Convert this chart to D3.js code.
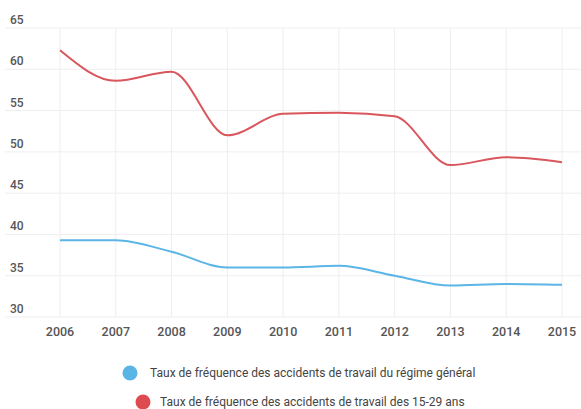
<!DOCTYPE html>
<html><head><meta charset="utf-8">
<script src="https://cdn.jsdelivr.net/npm/d3@7"></script>
<style>body{margin:0;background:#fff}svg{display:block}</style>
</head><body>
<script>
const years = [2006,2007,2008,2009,2010,2011,2012,2013,2014,2015];
const general = [39.3,39.3,37.9,36.0,36.0,36.2,35.0,33.8,34.0,33.9];
const young = [62.3,58.6,59.7,52.0,54.6,54.75,54.3,48.4,49.35,48.75];
const yTicks = [30,35,40,45,50,55,60,65];
const seriesNames = ["Taux de fréquence des accidents de travail du régime général","Taux de fréquence des accidents de travail des 15-29 ans"];
const colors = ["#5bb5e6","#d9565c"];
const legendColors = ["#5ab4e6","#dd4a50"];

const W=581,H=409;
const svg=d3.select("body").append("svg").attr("width",W).attr("height",H);
const x=d3.scaleLinear().domain([2006,2015]).range([60,562]);
const y=d3.scaleLinear().domain([30,65]).range([317,28]);

const g=svg.append("g");
g.selectAll("line.h").data(yTicks).join("line")
 .attr("x1",5).attr("x2",W).attr("y1",d=>y(d)).attr("y2",d=>y(d))
 .attr("stroke","#eeeeee").attr("stroke-width",1);
g.selectAll("line.v").data(years).join("line")
 .attr("x1",d=>x(d)).attr("x2",d=>x(d)).attr("y1",y(65)).attr("y2",y(30))
 .attr("stroke","#eeeeee").attr("stroke-width",1);

g.selectAll("text.yl").data(yTicks).join("text")
 .attr("x",10).attr("y",d=>y(d)-4)
 .attr("font-family","Roboto, sans-serif").attr("font-size",12).attr("font-weight",500)
 .attr("fill","#555").text(d=>d);
g.selectAll("text.xl").data(years).join("text")
 .attr("x",d=>x(d)).attr("y",335.5).attr("text-anchor","middle")
 .attr("font-family","Roboto, sans-serif").attr("font-size",12.5).attr("font-weight",500)
 .attr("fill","#555").text(d=>d);

const line=d3.line().x((d,i)=>x(years[i])).y(d=>y(d)).curve(d3.curveMonotoneX);
[general,young].forEach((s,i)=>{
  svg.append("path").datum(s).attr("d",line).attr("fill","none")
   .attr("stroke",colors[i]).attr("stroke-width",2);
});

const leg=[{cx:130,cy:373,tx:150},{cx:143,cy:402,tx:160}];
seriesNames.forEach((n,i)=>{
  svg.append("circle").attr("cx",leg[i].cx).attr("cy",leg[i].cy).attr("r",7.5).attr("fill",legendColors[i]);
  svg.append("text").attr("x",leg[i].tx).attr("y",leg[i].cy+4)
   .attr("font-family","Roboto, sans-serif").attr("font-size",12).attr("fill","#444").text(n);
});
</script>
</body></html>
